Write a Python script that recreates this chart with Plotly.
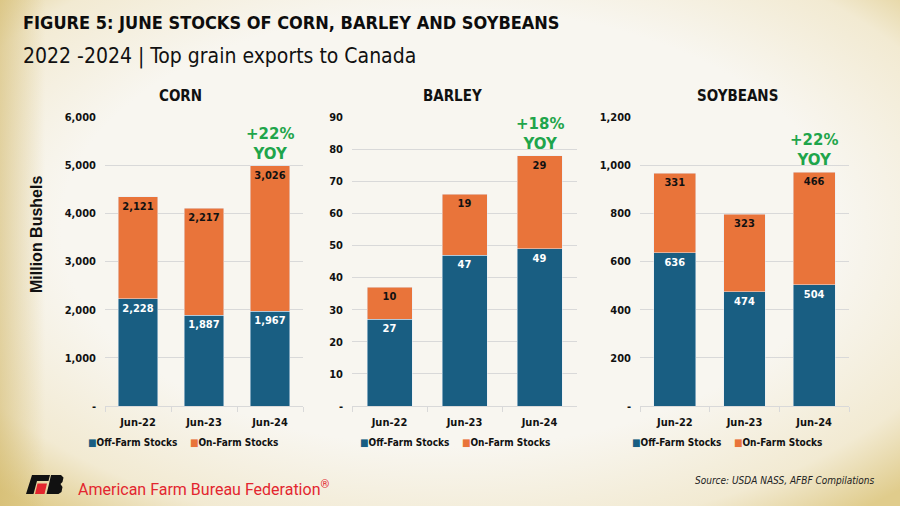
import base64
import plotly.graph_objects as go

# ---------------- data ----------------
periods = ["Jun-22", "Jun-23", "Jun-24"]

corn_off = [2228, 1887, 1967]
corn_on = [2121, 2217, 3026]
barley_off = [27, 47, 49]
barley_on = [10, 19, 29]
soy_off = [636, 474, 504]
soy_on = [331, 323, 466]

panel_titles = ["CORN", "BARLEY", "SOYBEANS"]
yoy_labels = ["+22%", "+18%", "+22%"]

corn_tickvals = [0, 1000, 2000, 3000, 4000, 5000, 6000]
corn_ticktext = ["-", "1,000", "2,000", "3,000", "4,000", "5,000", "6,000"]
barley_tickvals = [0, 10, 20, 30, 40, 50, 60, 70, 80, 90]
barley_ticktext = ["-", "10", "20", "30", "40", "50", "60", "70", "80", "90"]
soy_tickvals = [0, 200, 400, 600, 800, 1000, 1200]
soy_ticktext = ["-", "200", "400", "600", "800", "1,000", "1,200"]

series_names = ["Off-Farm Stocks", "On-Farm Stocks"]

# ---------------- styling ----------------
W, H = 900, 506
BLUE = "#195e82"
ORANGE = "#e9743a"
GREEN = "#1fa54b"
GRID = "#d9d9d9"
COND = "DejaVu Sans Condensed, DejaVu Sans, sans-serif"
TICKFONT = dict(family=COND, size=11, color="#111111", weight="bold")


def px(x):
    return x / W


def py(y):
    return 1 - y / H


panels = [
    dict(off=corn_off, on=corn_on, tv=corn_tickvals, tt=corn_ticktext, rng=[0, 6000],
         dom_x=[px(105), px(303)], title_x=180, legend_x=183),
    dict(off=barley_off, on=barley_on, tv=barley_tickvals, tt=barley_ticktext, rng=[0, 90],
         dom_x=[px(352), px(577)], title_x=453, legend_x=455),
    dict(off=soy_off, on=soy_on, tv=soy_tickvals, tt=soy_ticktext, rng=[0, 1200],
         dom_x=[px(640), px(849)], title_x=737, legend_x=727),
]
dom_y = [py(406), py(117)]

fig = go.Figure()
annotations = []
layout_axes = {}

for i, p in enumerate(panels):
    n = "" if i == 0 else str(i + 1)
    xa, ya = "x" + n, "y" + n
    fmt = "%{y:,}"
    fig.add_trace(go.Bar(
        x=periods, y=p["off"], name=series_names[0], marker=dict(color=BLUE),
        xaxis=xa, yaxis=ya, showlegend=False,
        texttemplate=fmt, textposition="inside", insidetextanchor="end",
        textangle=0, constraintext="none",
        textfont=dict(color="white", size=11, family=COND, weight="bold"),
        hoverinfo="skip",
    ))
    fig.add_trace(go.Bar(
        x=periods, y=p["on"], name=series_names[1], marker=dict(color=ORANGE),
        xaxis=xa, yaxis=ya, showlegend=False,
        texttemplate=fmt, textposition="inside", insidetextanchor="end",
        textangle=0, constraintext="none",
        textfont=dict(color="#111111", size=11, family=COND, weight="bold"),
        hoverinfo="skip",
    ))
    layout_axes["xaxis" + n] = dict(
        domain=p["dom_x"], anchor=ya, type="category", showgrid=False, automargin=False,
        showline=True, linecolor=GRID, linewidth=1, ticks="outside", tickson="boundaries",
        ticklen=5, tickcolor=GRID, tickfont=TICKFONT, ticklabelstandoff=6, fixedrange=True,
    )
    layout_axes["yaxis" + n] = dict(
        domain=dom_y, anchor=xa, range=p["rng"], tickvals=p["tv"], ticktext=p["tt"],
        showgrid=True, gridcolor=GRID, gridwidth=1, zeroline=False, showline=False, automargin=False,
        tickfont=TICKFONT, ticklabelstandoff=8, fixedrange=True,
    )
    legend_text = (
        f"<span style='color:{BLUE}'>■</span>{series_names[0]}"
        f"&nbsp;&nbsp;&nbsp;&nbsp;<span style='color:{ORANGE}'>■</span>{series_names[1]}"
    )
    annotations.append(dict(
        text="<b>" + legend_text + "</b>", x=px(p["legend_x"]), y=py(442), xref="paper", yref="paper",
        showarrow=False, xanchor="center", yanchor="middle",
        font=dict(family=COND, size=10, color="#111111"),
    ))
    annotations.append(dict(
        text="<b>" + panel_titles[i] + "</b>", x=px(p["title_x"]), y=py(96), xref="paper", yref="paper",
        showarrow=False, xanchor="center", yanchor="middle",
        font=dict(family=COND, size=15, color="#111111"),
    ))
    top = p["off"][-1] + p["on"][-1]
    annotations.append(dict(
        text="<b>" + yoy_labels[i] + "<br>YOY</b>", x=periods[-1], y=top, xref=xa, yref=ya,
        showarrow=False, xanchor="center", yanchor="bottom", yshift=1,
        font=dict(family="DejaVu Sans, sans-serif", size=15, color=GREEN),
    ))

annotations.append(dict(
    text="<b>Million Bushels</b>", x=px(36), y=py(235), xref="paper", yref="paper",
    showarrow=False, textangle=-90, xanchor="center", yanchor="middle",
    font=dict(family="Liberation Sans, Arial, sans-serif", size=16, color="#111111"),
))
annotations.append(dict(
    text="<b>FIGURE 5: JUNE STOCKS OF CORN, BARLEY AND SOYBEANS</b>", x=px(21), y=py(23),
    xref="paper", yref="paper", showarrow=False, xanchor="left", yanchor="middle",
    font=dict(family=COND, size=18, color="#0d0d0d"),
))
annotations.append(dict(
    text="2022 -2024 | Top grain exports to Canada", x=px(21), y=py(56),
    xref="paper", yref="paper", showarrow=False, xanchor="left", yanchor="middle",
    font=dict(family=COND, size=21, color="#111111"),
))
annotations.append(dict(
    text="American Farm Bureau Federation<sup>®</sup>", x=px(76), y=py(488),
    xref="paper", yref="paper", showarrow=False, xanchor="left", yanchor="middle",
    font=dict(family="Roboto, sans-serif", size=16, color="#e3262f"),
))
annotations.append(dict(
    text="<i>Source: USDA NASS, AFBF Compilations</i>", x=px(876), y=py(480),
    xref="paper", yref="paper", showarrow=False, xanchor="right", yanchor="middle",
    font=dict(family=COND, size=10, color="#222222"),
))


def poly(points, color):
    d = "M " + " L ".join(f"{px(a):.5f},{py(b):.5f}" for a, b in points) + " Z"
    return dict(type="path", path=d, xref="paper", yref="paper", fillcolor=color,
                line=dict(width=0), layer="above")


shapes = [
    poly([(32, 475), (50, 475), (48.5, 481), (37, 481), (33.5, 494), (26, 494)], "#111111"),
    poly([(37.5, 483.5), (47, 483.5), (44.5, 494), (35, 494)], "#e3262f"),
    poly([(51, 475), (61, 475), (63.5, 477.5), (62.5, 482), (60.5, 484), (62.5, 487),
          (61.5, 492), (58.5, 494), (46.5, 494), (49, 484)], "#111111"),
]

svg = (
    "<svg xmlns='http://www.w3.org/2000/svg' width='900' height='506' preserveAspectRatio='none'>"
    "<defs>"
    "<radialGradient id='g' cx='50%' cy='45%' r='72%'>"
    "<stop offset='0.6' stop-color='#f8f6f0'/>"
    "<stop offset='0.85' stop-color='#f2ead2'/>"
    "<stop offset='1' stop-color='#e0cc8c'/>"
    "</radialGradient>"
    "<linearGradient id='l' x1='0' x2='1' y1='0' y2='0'>"
    "<stop offset='0' stop-color='#d2b86a' stop-opacity='0.55'/>"
    "<stop offset='0.05' stop-color='#d2b86a' stop-opacity='0'/>"
    "</linearGradient>"
    "</defs>"
    "<rect width='900' height='506' fill='url(#g)'/>"
    "<rect width='900' height='506' fill='url(#l)'/>"
    "</svg>"
)
bg_src = "data:image/svg+xml;base64," + base64.b64encode(svg.encode()).decode()

fig.update_layout(
    width=W, height=H, autosize=False,
    margin=dict(l=0, r=0, t=0, b=0, pad=0, autoexpand=False),
    paper_bgcolor="#ece2c0", plot_bgcolor="rgba(0,0,0,0)",
    barmode="stack", bargap=0.4,
    annotations=annotations, shapes=shapes,
    images=[dict(source=bg_src, xref="paper", yref="paper", x=0, y=1, sizex=1, sizey=1,
                 xanchor="left", yanchor="top", sizing="stretch", layer="below")],
    showlegend=False,
    **layout_axes,
)

fig.write_html(
    "out.html",
    config={"displayModeBar": False, "staticPlot": True},
    post_script=(
        "document.documentElement.style.margin='0';document.body.style.margin='0';"
        "document.documentElement.style.overflow='hidden';document.body.style.overflow='hidden';"
        "document.body.style.background='#ece2c0';"
    ),
)
